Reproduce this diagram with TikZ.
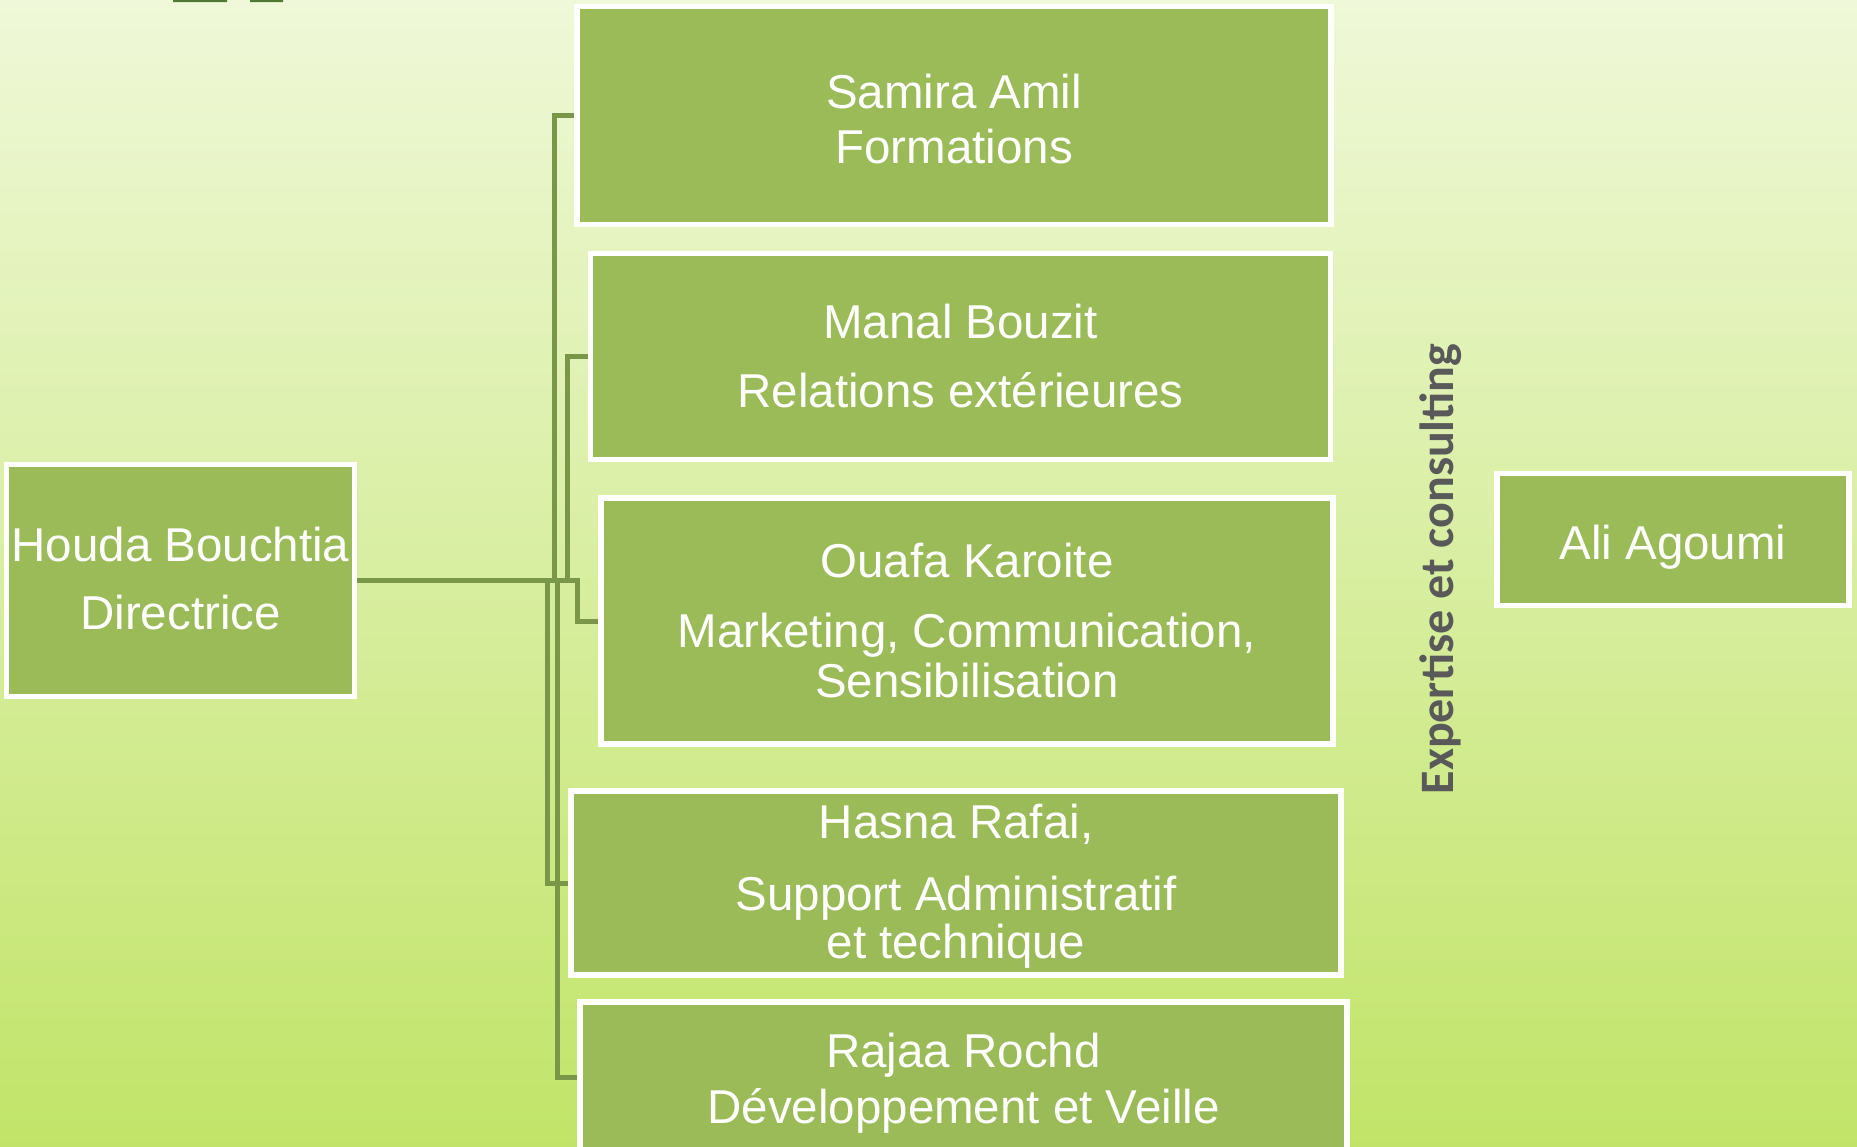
\documentclass[tikz,border=0pt]{standalone}
\usepackage{fontspec}
\setmainfont{Liberation Sans}
\newfontfamily\labelfont{Carlito}
\definecolor{boxgreen}{RGB}{155,187,89}
\definecolor{linkgreen}{RGB}{122,150,72}
\definecolor{bgtop}{RGB}{239,248,216}
\definecolor{bgbottom}{RGB}{193,228,104}
\definecolor{bargreen}{RGB}{78,122,50}
\definecolor{labelgray}{RGB}{89,89,89}

\begin{document}
\begin{tikzpicture}[x=1pt,y=-1pt,
	member/.style={draw=white,line width=5.5pt,fill=boxgreen,text=white,align=center,inner sep=0pt,font=\fontsize{47.5}{55}\selectfont},
	link/.style={draw=linkgreen,line width=5pt}]
	\clip (0,0) rectangle (1857,1146);
	\shade[top color=bgtop,bottom color=bgbottom] (0,0) rectangle (1857,1146);
	\fill[bargreen] (173,0) rectangle (227,2) (250,0) rectangle (283,2);

	\node[member,minimum width=348pt,minimum height=232pt] (houda) at (180.5,580.5) {Houda Bouchtia\\[13pt]Directrice\rule[-4pt]{0pt}{4pt}};
	\node[member,minimum width=754pt,minimum height=218pt] (samira) at (954,115.5) {\rule{0pt}{41pt}Samira Amil\\Formations};
	\node[member,minimum width=740pt,minimum height=206pt] (manal) at (960.5,356.5) {Manal Bouzit\\[14pt]Relations extérieures};
	\node[member,minimum width=732pt,minimum height=246pt] (ouafa) at (967,621) {Ouafa Karoite\\[15pt]Marketing, Communication,\\[-5pt]Sensibilisation};
	\node[member,minimum width=770pt,minimum height=184pt] (hasna) at (956,883) {\rule{0pt}{41pt}Hasna Rafai,\\[17pt]Support Administratif\\[-7pt]et technique};
	\node[member,minimum width=767pt,minimum height=150pt] (rajaa) at (963.5,1077) {\rule{0pt}{47pt}Rajaa Rochd\\[1pt]Développement et Veille};
	\node[member,minimum width=352pt,minimum height=132pt] (ali) at (1673,539.5) {\rule{0pt}{49pt}Ali Agoumi};
	\node[rotate=90,text=labelgray,inner sep=0pt,font=\labelfont\bfseries\fontsize{48}{55}\selectfont] (expertise) at (1441,569) {Expertise et consulting};

	\foreach \kid/\bend in {samira/197,manal/210.5,ouafa/220.5,hasna/190,rajaa/200.5}
		\draw[link] (houda.east) -- ++(\bend,0) |- (\kid.west);
\end{tikzpicture}
\end{document}
